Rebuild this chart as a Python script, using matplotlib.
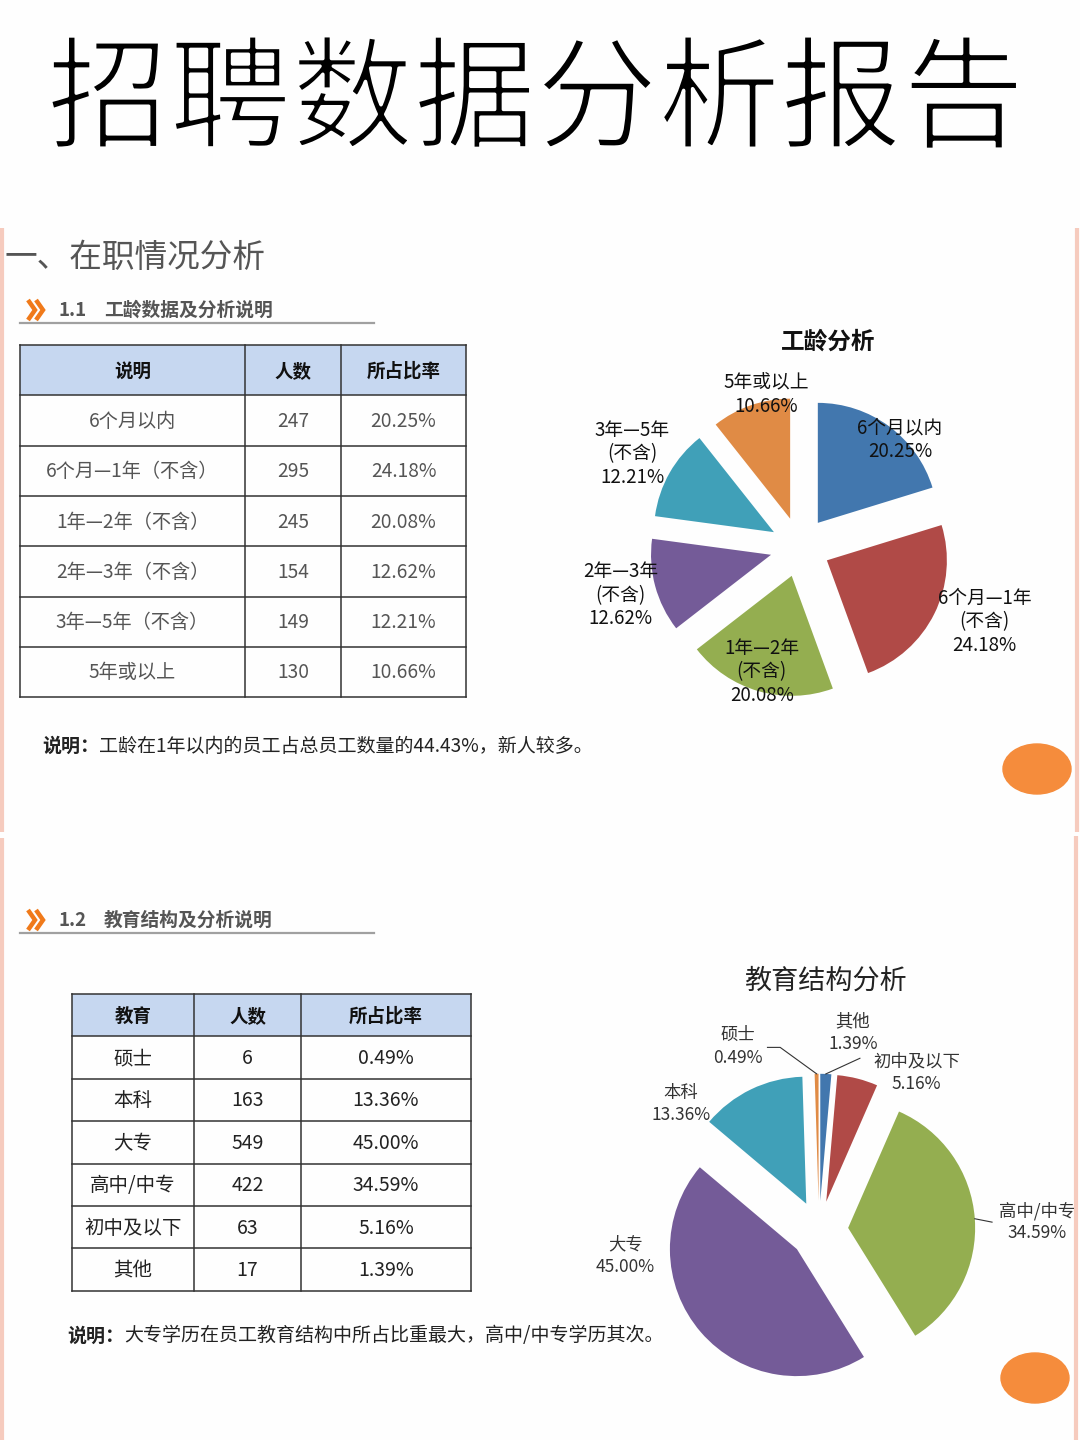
import numpy as np
import matplotlib
matplotlib.use('Agg')
from matplotlib import pyplot as plt
from matplotlib.patches import Rectangle, Ellipse
import matplotlib.patheffects as pe

plt.rcParams['font.family'] = ['Noto Sans CJK SC', 'DejaVu Sans']

# --- data ---
tenure_labels = ['6个月以内', '6个月—1年（不含）', '1年—2年（不含）', '2年—3年（不含）', '3年—5年（不含）', '5年或以上']
tenure_counts = [247, 295, 245, 154, 149, 130]
tenure_pcts = ['20.25%', '24.18%', '20.08%', '12.62%', '12.21%', '10.66%']
tenure_header = ['说明', '人数', '所占比率']

edu_labels = ['硕士', '本科', '大专', '高中/中专', '初中及以下', '其他']
edu_counts = [6, 163, 549, 422, 63, 17]
edu_pcts = ['0.49%', '13.36%', '45.00%', '34.59%', '5.16%', '1.39%']
edu_header = ['教育', '人数', '所占比率']

note1 = '工龄在1年以内的员工占总员工数量的44.43%，新人较多。'
note2 = '大专学历在员工教育结构中所占比重最大，高中/中专学历其次。'

# --- styles ---
BLUE, RED, GREEN, PURPLE, CYAN, ORANGE = '#4277AE', '#B04A47', '#94AE50', '#745B98', '#40A0B8', '#E08B45'
tenure_colors = [BLUE, RED, GREEN, PURPLE, CYAN, ORANGE]
edu_colors = [ORANGE, CYAN, PURPLE, GREEN, RED, BLUE]
PINK = '#F6CBBE'
BG = '#FEFEFE'
W, H = 1080, 1440

fig = plt.figure(figsize=(W / 100, H / 100), dpi=100)
fig.patch.set_facecolor(BG)
bg = fig.add_axes([0, 0, 1, 1])
bg.set_xlim(0, W)
bg.set_ylim(H, 0)
bg.axis('off')

# big title (white outline on top thins the strokes a little)
bg.text(536, 104, '招聘数据分析报告', fontsize=88, ha='center', va='center', color='black',
        path_effects=[pe.Normal(), pe.Stroke(linewidth=2.5, foreground=BG)])

# pink panel borders
for x0, y0, y1 in [(2, 228, 832), (1077, 228, 832), (2, 838, 1440), (1076, 836, 1440)]:
    bg.plot([x0, x0], [y0, y1], color=PINK, lw=3, solid_capstyle='butt')

bg.text(5, 258, '一、在职情况分析', fontsize=23.5, ha='left', va='center', color='#555555')


def subheading(y, num, text):
    # double chevron mark
    for k in range(2):
        bg.plot([28 + 8 * k, 35 + 8 * k, 28 + 8 * k], [y - 10, y, y + 10], color='#F07A1A', lw=3.2,
                solid_joinstyle='miter', solid_capstyle='butt')
    bg.text(58, y, num, fontsize=13.5, fontweight='bold', color='#555555', ha='left', va='center')
    bg.text(104, y, text, fontsize=13.5, fontweight='bold', color='#555555', ha='left', va='center')
    bg.plot([20, 374], [y + 13, y + 13], color='#A0A0A0', lw=1.6)


subheading(310, '1.1', '工龄数据及分析说明')
subheading(920, '1.2', '教育结构及分析说明')


def draw_table(cols, top, rh, header, rows, body_color, body_size):
    nrows = len(rows) + 1
    bg.add_patch(Rectangle((cols[0], top), cols[-1] - cols[0], rh, facecolor='#C6D7F0', edgecolor='none'))
    for i in range(nrows + 1):
        bg.plot([cols[0], cols[-1]], [top + i * rh, top + i * rh], color='#333333', lw=1.1)
    for c in cols:
        bg.plot([c, c], [top, top + nrows * rh], color='#333333', lw=1.1)
    for j, h in enumerate(header):
        bg.text((cols[j] + cols[j + 1]) / 2, top + rh / 2 + 1, h, fontsize=13.3, fontweight='bold',
                ha='center', va='center', color='#111111')
    for i, row in enumerate(rows):
        for j, val in enumerate(row):
            bg.text((cols[j] + cols[j + 1]) / 2, top + (i + 1.5) * rh + 1, str(val), fontsize=body_size,
                    ha='center', va='center', color=body_color)


draw_table([20, 245, 341, 466], 345, 50.3, tenure_header,
           list(zip(tenure_labels, tenure_counts, tenure_pcts)), '#555555', 13.8)
draw_table([72, 194, 301, 471], 994, 42.4, edu_header,
           list(zip(edu_labels, edu_counts, edu_pcts)), '#222222', 14)


def note(x, y, text, size):
    t = bg.text(x, y, '说明：', fontsize=size, fontweight='bold', ha='left', va='center', color='#222222')
    bg.annotate(text, xy=(1, 0.5), xycoords=t, fontsize=size, ha='left', va='center', color='#222222')


note(42, 746, note1, 13.7)
note(67, 1336, note2, 13.7)

# orange ellipses
bg.add_patch(Ellipse((1037, 769), 68, 50, color='#F58C3C'))
bg.add_patch(Ellipse((1035, 1378), 68, 50, color='#F58C3C'))

# chart titles
bg.text(828, 342, '工龄分析', fontsize=17, fontweight='bold', ha='center', va='center', color='#111111')
bg.text(825, 981, '教育结构分析', fontsize=19.5, ha='center', va='center', color='#222222')


def pie_axes(cx, cy, r, half=260):
    ax = fig.add_axes([(cx - half) / W, (H - cy - half) / H, 2 * half / W, 2 * half / H])
    return ax, half / r


# --- pie 1: tenure ---
ax1, lim1 = pie_axes(800, 547, 120)
w1, _ = ax1.pie(tenure_counts, colors=tenure_colors, startangle=90, counterclock=False,
                explode=[0.25] * 6, wedgeprops=dict(linewidth=0))
ax1.set_xlim(-lim1, lim1)
ax1.set_ylim(-lim1, lim1)
ax1.axis('off')
lab_pos1 = [(1.22, 47), (1.66, -22), (1.09, -107), (1.55, -165), (1.6, 151), (1.3, 102.6)]
for lab, pct, (d, a) in zip(tenure_labels, tenure_pcts, lab_pos1):
    txt = lab.replace('（不含）', '\n(不含)') + '\n' + pct
    ax1.text(d * np.cos(np.radians(a)), d * np.sin(np.radians(a)), txt, fontsize=13.5,
             ha='center', va='center', color='#111111', linespacing=1.15)

# --- pie 2: education ---
ax2, lim2 = pie_axes(819, 1230, 127)
w2, _ = ax2.pie(edu_counts, colors=edu_colors, startangle=90, counterclock=True,
                explode=[0.23] * 6, wedgeprops=dict(linewidth=0))
ax2.set_xlim(-lim2, lim2)
ax2.set_ylim(-lim2, lim2)
ax2.axis('off')
lab_pos2 = [(1.58, 113.8), (1.47, 137.6), (1.54, 187.6), (1.72, 2.1), (1.46, 58.2), (1.575, 80.2)]
for lab, pct, (d, a) in zip(edu_labels, edu_pcts, lab_pos2):
    ax2.text(d * np.cos(np.radians(a)), d * np.sin(np.radians(a)), lab + '\n' + pct, fontsize=12.5,
             ha='center', va='center', color='#333333', linespacing=1.3)

# leader lines: slice index -> (end radius, end angle, horizontal tail)
leaders = {0: (1.47, 102, -0.1), 5: (1.39, 76.6, 0), 3: (1.364, 2.6, 0)}
for i, (d, a, tail) in leaders.items():
    w = w2[i]
    mid = np.radians((w.theta1 + w.theta2) / 2)
    sx = w.center[0] + w.r * np.cos(mid)
    sy = w.center[1] + w.r * np.sin(mid)
    ex, ey = d * np.cos(np.radians(a)), d * np.sin(np.radians(a))
    ax2.plot([sx, ex, ex + tail], [sy, ey, ey], color='#333333', lw=0.8)

fig.savefig('out.png', dpi=100, facecolor=fig.get_facecolor())
